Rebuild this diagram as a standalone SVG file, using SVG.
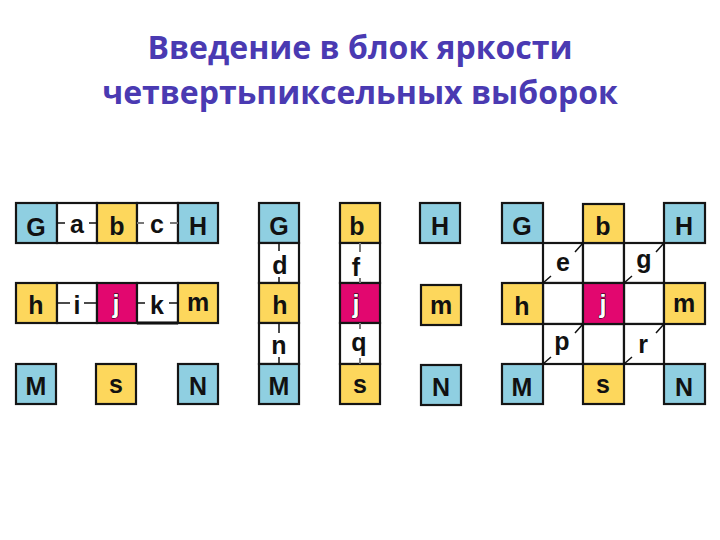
<svg xmlns="http://www.w3.org/2000/svg" width="720" height="540" viewBox="0 0 720 540">
<style>
.t{font-family:"Open Sans","Noto Sans","DejaVu Sans",sans-serif;font-weight:bold;font-size:32px;fill:#4A3AB2;text-anchor:middle}
.c{stroke:#151515;stroke-width:2.2}
.bl{fill:#8FCFE1}.ye{fill:#FDD75C}.pk{fill:#E2076F}.wh{fill:#FFFFFF}
.l{font-family:"Liberation Sans",Arial,sans-serif;font-weight:bold;font-size:25px;fill:#111;text-anchor:middle}
.lj{font-family:"Liberation Sans",Arial,sans-serif;font-weight:bold;font-size:25px;fill:#FFF;stroke:#000;stroke-width:1;paint-order:stroke;text-anchor:middle}
.k{stroke:#111;stroke-width:1.5;fill:none}
.g{stroke:#777;stroke-width:2;fill:none}
</style>
<rect width="720" height="540" fill="#FFFFFF"/>
<g id="title">
<text class="t" x="360" y="59">Введение в блок яркости</text>
<text class="t" x="360" y="104">четвертьпиксельных выборок</text>
</g>

<!-- Panel 1 -->
<g id="p1-G"><rect class="c bl" x="16" y="203" width="41" height="40"/><text class="l" x="36" y="236">G</text></g>
<g id="p1-a"><rect class="c wh" x="57" y="203" width="40" height="40"/><text class="l" x="77" y="233">a</text></g>
<g id="p1-b"><rect class="c ye" x="97" y="203" width="40" height="40"/><text class="l" x="117" y="235">b</text></g>
<g id="p1-c"><rect class="c wh" x="137" y="203" width="41" height="40"/><text class="l" x="157" y="233">c</text></g>
<g id="p1-H"><rect class="c bl" x="178" y="203" width="40" height="40"/><text class="l" x="198" y="235">H</text></g>
<g id="p1-h"><rect class="c ye" x="16" y="283" width="41" height="40"/><text class="l" x="36" y="314">h</text></g>
<g id="p1-i"><rect class="c wh" x="57" y="283" width="40" height="40"/><text class="l" x="77" y="314">i</text></g>
<g id="p1-j"><rect class="c pk" x="97" y="283" width="40" height="40"/><text class="lj" x="116" y="313">j</text></g>
<g id="p1-k"><rect class="c wh" x="137" y="283" width="41" height="40"/><line x1="137" y1="323" x2="178" y2="323" stroke="#111" stroke-width="3"/><text class="l" x="157" y="314">k</text></g>
<g id="p1-m"><rect class="c ye" x="178" y="283" width="40" height="40"/><text class="l" x="198" y="311">m</text></g>
<g id="p1-M"><rect class="c bl" x="16" y="364" width="40" height="40"/><text class="l" x="36" y="395">M</text></g>
<g id="p1-s"><rect class="c ye" x="96" y="364" width="40" height="40"/><text class="l" x="116" y="393">s</text></g>
<g id="p1-N"><rect class="c bl" x="178" y="364" width="40" height="40"/><text class="l" x="198" y="395">N</text></g>

<!-- Panel 2 -->
<g id="p2-G"><rect class="c bl" x="259" y="203" width="40" height="40"/><text class="l" x="279" y="235">G</text></g>
<g id="p2-d"><rect class="c wh" x="259" y="243" width="40" height="40"/><text class="l" x="280" y="274">d</text></g>
<g id="p2-h"><rect class="c ye" x="259" y="283" width="40" height="40"/><text class="l" x="280" y="314">h</text></g>
<g id="p2-n"><rect class="c wh" x="259" y="323" width="40" height="41"/><text class="l" x="279" y="354">n</text></g>
<g id="p2-M"><rect class="c bl" x="259" y="364" width="40" height="40"/><text class="l" x="279" y="395">M</text></g>
<g id="p2-b"><rect class="c ye" x="340" y="203" width="40" height="40"/><text class="l" x="357" y="235">b</text></g>
<g id="p2-f"><rect class="c wh" x="340" y="243" width="40" height="40"/><text class="l" x="356" y="276">f</text></g>
<g id="p2-j"><rect class="c pk" x="340" y="283" width="40" height="40"/><text class="lj" x="356" y="313">j</text></g>
<g id="p2-q"><rect class="c wh" x="340" y="323" width="40" height="41"/><text class="l" x="359" y="351">q</text></g>
<g id="p2-s"><rect class="c ye" x="340" y="364" width="40" height="40"/><text class="l" x="360" y="393">s</text></g>
<g id="p2-H"><rect class="c bl" x="420" y="203" width="40" height="40"/><text class="l" x="440" y="235">H</text></g>
<g id="p2-m"><rect class="c ye" x="421" y="285" width="40" height="40"/><text class="l" x="441" y="314">m</text></g>
<g id="p2-N"><rect class="c bl" x="421" y="365" width="40" height="40"/><text class="l" x="441" y="396">N</text></g>

<!-- Panel 3 -->
<g id="p3-e"><rect class="c wh" x="543" y="243" width="40" height="40"/><text class="l" x="563" y="271">e</text></g>
<g id="p3-be"><rect class="c wh" x="583" y="243" width="41" height="40"/></g>
<g id="p3-g"><rect class="c wh" x="624" y="243" width="40" height="40"/><text class="l" x="644" y="268">g</text></g>
<g id="p3-hj"><rect class="c wh" x="543" y="283" width="40" height="41"/></g>
<g id="p3-jm"><rect class="c wh" x="624" y="283" width="40" height="41"/></g>
<g id="p3-p"><rect class="c wh" x="543" y="324" width="40" height="40"/><text class="l" x="562" y="350">p</text></g>
<g id="p3-js"><rect class="c wh" x="583" y="324" width="41" height="40"/></g>
<g id="p3-r"><rect class="c wh" x="624" y="324" width="40" height="40"/><text class="l" x="643" y="353">r</text></g>
<g id="p3-G"><rect class="c bl" x="502" y="203" width="41" height="40"/><text class="l" x="522" y="235">G</text></g>
<g id="p3-b"><rect class="c ye" x="583" y="204" width="41" height="39"/><text class="l" x="603" y="235">b</text></g>
<g id="p3-H"><rect class="c bl" x="664" y="203" width="41" height="40"/><text class="l" x="684" y="235">H</text></g>
<g id="p3-h"><rect class="c ye" x="502" y="283" width="41" height="41"/><text class="l" x="522" y="315">h</text></g>
<g id="p3-j"><rect class="c pk" x="583" y="283" width="41" height="41"/><text class="lj" x="603" y="313">j</text></g>
<g id="p3-m"><rect class="c ye" x="664" y="283" width="41" height="41"/><text class="l" x="684" y="312">m</text></g>
<g id="p3-M"><rect class="c bl" x="502" y="364" width="41" height="40"/><text class="l" x="522" y="396">M</text></g>
<g id="p3-s"><rect class="c ye" x="583" y="364" width="41" height="40"/><text class="l" x="603" y="393">s</text></g>
<g id="p3-N"><rect class="c bl" x="664" y="364" width="41" height="40"/><text class="l" x="684" y="396">N</text></g>

<g id="connectors">
<path class="k" d="M57 223H65M89 223H97"/>
<path class="g" d="M137 223H144M170 223H178"/>
<path class="k" d="M57 303H70M84 303H97"/>
<path class="k" d="M137 303H145M169 303H178"/>
<path class="k" d="M279 243V251M279 277V283"/>
<path class="k" d="M279 323V333M279 357V364"/>
<path class="g" d="M360 243V252M360 278V283"/>
<path class="g" d="M360 323V329M360 358V364"/>
<path class="k" d="M583 243L575 252M551 276L543 283"/>
<path class="k" d="M664 243L656 252M632 276L624 283"/>
<path class="k" d="M583 324L575 333M551 357L543 364"/>
<path class="k" d="M664 324L656 333M632 357L624 364"/>
</g>
</svg>
